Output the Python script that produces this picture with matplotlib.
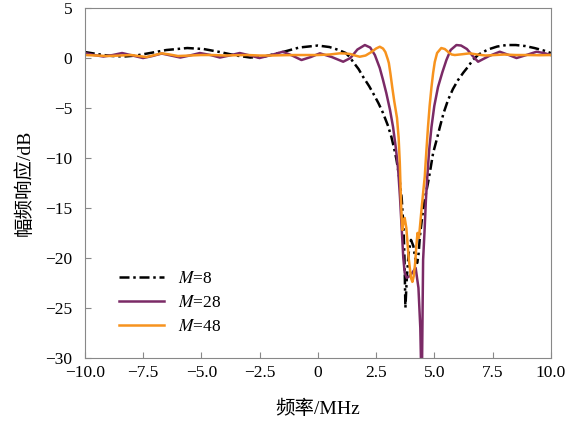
import matplotlib
matplotlib.use("Agg")
import matplotlib.pyplot as plt

plt.rcParams['font.family'] = ['Liberation Serif', 'Noto Sans CJK SC']
plt.rcParams['mathtext.fontset'] = 'stix'

# M=8
x8 = [-10, -9.6, -9.2, -8.8, -8.3, -7.8, -7.2, -6.5, -5.6, -4.9, -4.2, -3.5, -2.9, -2.3,
      -1.5, -0.8, 0, 0.5, 0.9, 1.2, 1.37, 1.52, 1.75, 1.95, 2.2, 2.37, 2.6, 2.8, 3.0, 3.16,
      3.3, 3.38, 3.5, 3.6, 3.68, 3.72, 3.76, 3.82, 3.9, 4.0, 4.1, 4.2, 4.27, 4.33, 4.38,
      4.45, 4.52, 4.62, 4.73, 4.85, 4.95, 5.1, 5.24, 5.4, 5.59, 5.8, 6.02, 6.25, 6.45,
      6.65, 6.9, 7.3, 7.7, 8.1, 8.5, 8.9, 9.3, 9.7, 10]
y8 = [0.6, 0.45, 0.3, 0.2, 0.15, 0.25, 0.5, 0.8, 1.0, 0.9, 0.6, 0.25, 0.05, 0.15,
      0.6, 1.05, 1.25, 1.1, 0.8, 0.5, 0.1, -0.4, -1.1, -1.9, -2.8, -3.5, -4.5, -5.5, -6.7,
      -7.9, -9.3, -10.2, -12.0, -14.0, -17.0, -20.0, -25.0, -22.0, -19.5, -18.2, -18.8,
      -20.3, -20.5, -19.5, -17.9, -16.5, -15.2, -13.8, -12.5, -10.9, -9.5, -8.2, -6.9,
      -5.5, -4.2, -3.1, -2.2, -1.45, -0.87, -0.2, 0.35, 0.85, 1.15, 1.3, 1.3, 1.2, 1.0,
      0.75, 0.5]

# M=28
x28 = [-10, -9.6, -9.2, -8.8, -8.4, -7.95, -7.5, -7.1, -6.7, -6.3, -5.9, -5.5, -5.06,
       -4.6, -4.2, -3.8, -3.35, -2.9, -2.5, -2.0, -1.5, -1.1, -0.7, -0.3, 0.09, 0.6, 1.09,
       1.4, 1.7, 2.02, 2.25, 2.45, 2.66, 2.8, 2.94, 3.1, 3.23, 3.35, 3.45, 3.53, 3.6,
       3.67, 3.73, 3.82, 3.95, 4.05, 4.2, 4.32, 4.4, 4.46, 4.52, 4.59, 4.64, 4.7, 4.78,
       4.88, 5.0, 5.16, 5.35, 5.52, 5.7, 5.95, 6.15, 6.4, 6.65, 6.88, 7.1, 7.35, 7.81,
       8.2, 8.53, 8.95, 9.39, 9.7, 10]
y28 = [0.5, 0.3, 0.15, 0.3, 0.5, 0.25, 0.0, 0.2, 0.45, 0.25, 0.05, 0.25, 0.5,
       0.3, 0.05, 0.25, 0.5, 0.25, 0.0, 0.3, 0.63, 0.25, -0.2, 0.1, 0.47, 0.1, -0.37,
       0.0, 0.85, 1.3, 1.05, 0.3, -1.0, -2.2, -3.5, -5.2, -6.9, -9.0, -11.2, -14.0, -17.0,
       -20.0, -21.5, -22.0, -21.8, -21.5, -21.0, -23.0, -27.0, -34.0, -20.2, -16.9, -14.2,
       -11.9, -9.2, -6.9, -4.8, -2.9, -1.4, -0.2, 0.8, 1.3, 1.25, 0.9, 0.2, -0.37, -0.1,
       0.2, 0.63, 0.3, 0.0, 0.3, 0.63, 0.5, 0.3]

# M=48
x48 = [-10, -9.5, -9, -8.5, -8, -7.7, -7.35, -7.0, -6.7, -6.35, -6, -5.5, -5, -4.5, -4,
       -3.5, -3, -2.5, -2, -1.5, -1, -0.5, 0, 0.5, 0.94, 1.2, 1.4, 1.6, 1.8, 2.05, 2.3,
       2.5, 2.66, 2.8, 2.9, 3.0, 3.05, 3.12, 3.2, 3.28, 3.4, 3.47, 3.52, 3.56, 3.6, 3.63,
       3.68, 3.73, 3.8, 3.9, 4.0, 4.06, 4.12, 4.18, 4.23, 4.28, 4.34, 4.4, 4.45, 4.52,
       4.59, 4.66, 4.73, 4.8, 4.88, 4.95, 5.02, 5.12, 5.3, 5.45, 5.6, 5.75, 5.88, 6.2,
       6.52, 6.85, 7.2, 7.6, 8, 8.5, 9, 9.5, 10]
y48 = [0.3, 0.25, 0.2, 0.25, 0.3, 0.2, 0.1, 0.3, 0.47, 0.35, 0.2, 0.25, 0.3, 0.3, 0.25,
       0.28, 0.3, 0.25, 0.25, 0.28, 0.3, 0.3, 0.3, 0.35, 0.47, 0.45, 0.4, 0.25, 0.13, 0.25,
       0.6, 0.95, 1.13, 0.95, 0.6, -0.1, -0.5, -1.6, -3.0, -4.3, -6.0, -8.0, -10.5, -13.5,
       -16.0, -17.2, -16.3, -16.0, -17.0, -20.0, -22.0, -22.4, -21.8, -20.5, -18.8, -17.5,
       -18.0, -16.5, -15.2, -13.5, -11.9, -9.3, -6.9, -4.8, -2.9, -1.5, -0.4, 0.5, 1.0,
       0.9, 0.6, 0.35, 0.3, 0.38, 0.47, 0.35, 0.25, 0.3, 0.35, 0.3, 0.3, 0.28, 0.3]

xticks = [-10, -7.5, -5, -2.5, 0, 2.5, 5, 7.5, 10]
xtick_labels = ['\u221210.0', '\u22127.5', '\u22125.0', '\u22122.5', '0', '2.5', '5.0', '7.5', '10.0']
yticks = [5, 0, -5, -10, -15, -20, -25, -30]
ytick_labels = ['5', '0', '\u22125', '\u221210', '\u221215', '\u221220', '\u221225', '\u221230']

fig = plt.figure(figsize=(5.69, 4.24), dpi=100)
ax = fig.add_axes([0.149, 0.156, 0.819, 0.825])

ax.plot(x8, y8, color='black', lw=1.8, ls=(0, (4, 1.5, 1, 1.5)), label='$M$=8')
ax.plot(x28, y28, color='#7b2a66', lw=1.8, label='$M$=28')
ax.plot(x48, y48, color='#f7931e', lw=1.8, label='$M$=48')

ax.set_xlim(-10, 10)
ax.set_ylim(-30, 5)
ax.set_xticks(xticks)
ax.set_xticklabels(xtick_labels)
ax.set_yticks(yticks)
ax.set_yticklabels(ytick_labels)
ax.tick_params(direction='in', labelsize=12.5, color='#888888', length=4)
ax.tick_params(axis='y', pad=9)
ax.tick_params(axis='x', pad=5)

for s in ax.spines.values():
    s.set_color('#888888')

ax.set_xlabel('频率/MHz', fontsize=14, labelpad=14)
ax.set_ylabel('幅频响应/dB', fontsize=14, labelpad=8)

ax.legend(loc='lower left', bbox_to_anchor=(0.04, 0.02), frameon=False, fontsize=12.5,
          handlelength=2.6, labelspacing=0.45)

fig.savefig('out.png', dpi=100)
